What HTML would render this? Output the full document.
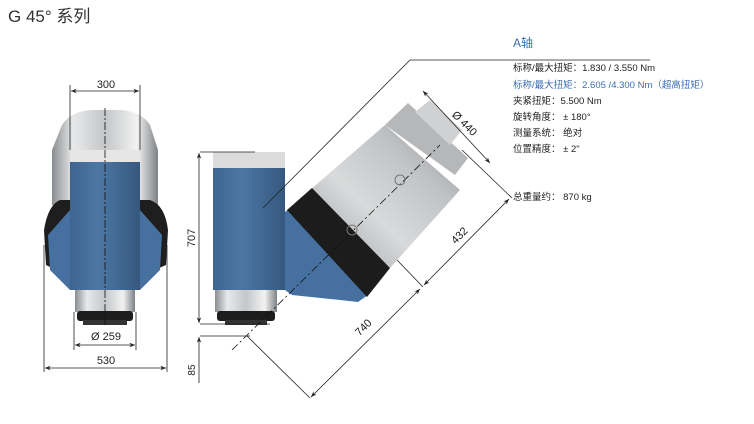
<!DOCTYPE html>
<html><head><meta charset="utf-8"><style>
html,body{margin:0;padding:0;background:#fff}
svg{display:block}
text{font-family:"Liberation Sans","Noto Sans CJK SC",sans-serif}
</style></head><body>
<svg width="754" height="424" viewBox="0 0 754 424" xmlns="http://www.w3.org/2000/svg">
<defs>
<linearGradient id="sil" x1="0" x2="1" y1="0" y2="0">
<stop offset="0" stop-color="#8a8d90"/><stop offset=".2" stop-color="#e8e9ea"/><stop offset=".5" stop-color="#c4c6c8"/><stop offset=".8" stop-color="#f2f2f2"/><stop offset="1" stop-color="#7e8184"/></linearGradient>
<linearGradient id="blu" x1="0" x2="1" y1="0" y2="0">
<stop offset="0" stop-color="#3e6590"/><stop offset=".4" stop-color="#4c77a5"/><stop offset="1" stop-color="#36587e"/></linearGradient>
<linearGradient id="sil2" x1="0" x2="1" y1="1" y2="0">
<stop offset="0" stop-color="#9a9c9e"/><stop offset=".4" stop-color="#d9dadb"/><stop offset=".7" stop-color="#c0c2c4"/><stop offset="1" stop-color="#8e9093"/></linearGradient>
<marker id="a" viewBox="0 0 10 10" refX="10" refY="5" markerWidth="7" markerHeight="7" orient="auto-start-reverse"><path d="M0,1 L10,5 L0,9 L3,5z" fill="#222"/></marker>
</defs>
<text x="8" y="22" font-size="17" fill="#333">G 45°  系列</text>

<!-- FRONT VIEW -->
<path d="M62,125 Q70,112 90,110 L122,110 Q142,112 150,125 L158,150 L158,205 L52,205 L52,150z" fill="url(#sil)"/>
<path d="M44,230 Q48,205 60,200 L150,200 Q165,205 168,230 L166,265 L150,272 L60,272 L46,265z" fill="#1e1e1e"/>
<path d="M48,235 L70,210 L140,210 L162,235 L160,270 L140,290 L70,290 L50,270z" fill="#4570a0"/>
<rect x="70" y="150" width="70" height="12" fill="#e6e6e6"/>
<rect x="70" y="162" width="70" height="128" fill="url(#blu)"/>
<rect x="75" y="290" width="60" height="22" fill="url(#sil)"/>
<rect x="77" y="311" width="56" height="10" rx="3" fill="#1d1d1d"/>
<rect x="83" y="320" width="44" height="5" fill="#333"/>
<line x1="105" y1="108" x2="105" y2="325" stroke="#111" stroke-width=".8" stroke-dasharray="8,2,2,2"/>
<g stroke="#222" stroke-width=".8" fill="none">
<line x1="70" y1="85" x2="70" y2="150"/><line x1="140" y1="85" x2="140" y2="150"/>
<line x1="71" y1="91" x2="139" y2="91" marker-start="url(#a)" marker-end="url(#a)"/>
<line x1="74" y1="312" x2="74" y2="350"/><line x1="136" y1="312" x2="136" y2="350"/>
<line x1="75" y1="345" x2="135" y2="345" marker-start="url(#a)" marker-end="url(#a)"/>
<line x1="44" y1="245" x2="44" y2="372"/><line x1="167" y1="245" x2="167" y2="372"/>
<line x1="45" y1="368" x2="166" y2="368" marker-start="url(#a)" marker-end="url(#a)"/>
</g>
<text x="106" y="88" font-size="11" text-anchor="middle" fill="#222">300</text>
<text x="106" y="340" font-size="11" text-anchor="middle" fill="#222">Ø 259</text>
<text x="106" y="364" font-size="11" text-anchor="middle" fill="#222">530</text>

<!-- SIDE VIEW -->
<polygon points="285,212 290,208 368,295 358,302 340,300 292,295 285,290" fill="#4570a0"/>
<rect x="213" y="152" width="72" height="16" fill="#dcdcdc"/>
<rect x="213" y="168" width="72" height="122" fill="url(#blu)"/>
<rect x="215" y="290" width="62" height="22" fill="url(#sil)"/>
<rect x="217" y="311" width="58" height="10" rx="3" fill="#1d1d1d"/>
<rect x="225" y="320" width="42" height="5" fill="#333"/>

<!-- ROTATED HEAD -->
<polygon points="385,125 408,103 468,158 455,175" fill="#b5b7b9"/>
<polygon points="415,112 430,100 462,130 450,145" fill="#d0d1d2"/>
<polygon points="310,190 385,125 460,190 390,268" fill="url(#sil2)"/>
<polygon points="287,210 312,188 390,268 367,297" fill="#1c1c1c"/>
<line x1="232" y1="350" x2="440" y2="145" stroke="#111" stroke-width=".8" stroke-dasharray="8,3,2,3"/>
<circle cx="400" cy="180" r="5" fill="none" stroke="#777"/>
<circle cx="352" cy="230" r="5" fill="none" stroke="#777"/>

<g stroke="#222" stroke-width=".8" fill="none">
<polyline points="263,208 410,60 650,60"/>
<line x1="423" y1="91" x2="490" y2="163" marker-start="url(#a)" marker-end="url(#a)"/>
<line x1="462" y1="150" x2="512" y2="198"/>
<line x1="397" y1="260" x2="423" y2="287"/>
<line x1="509" y1="199" x2="424" y2="285" marker-start="url(#a)" marker-end="url(#a)"/>
<line x1="420" y1="289" x2="311" y2="397" marker-start="url(#a)" marker-end="url(#a)"/>
<line x1="247" y1="336" x2="310" y2="398"/>
<line x1="200" y1="152" x2="255" y2="152"/>
<line x1="200" y1="324" x2="270" y2="324"/>
<line x1="200" y1="336" x2="250" y2="336"/>
<line x1="199" y1="153" x2="199" y2="323" marker-start="url(#a)" marker-end="url(#a)"/>
<line x1="199" y1="337" x2="199" y2="383" marker-start="url(#a)"/>
</g>
<text transform="translate(195,238) rotate(-90)" font-size="11" text-anchor="middle" fill="#222">707</text>
<text transform="translate(195,370) rotate(-90)" font-size="10" text-anchor="middle" fill="#222">85</text>
<text transform="translate(462,126) rotate(45)" font-size="11" text-anchor="middle" fill="#222">Ø 440</text>
<text transform="translate(462,238) rotate(-45)" font-size="11" text-anchor="middle" fill="#222">432</text>
<text transform="translate(366,330) rotate(-45)" font-size="11" text-anchor="middle" fill="#222">740</text>

<!-- SPECS -->
<text x="513" y="47" font-size="12" fill="#3a6db0">A轴</text>
<g font-size="9.5" fill="#222">
<text x="513" y="71">标称/最大扭矩：1.830 / 3.550 Nm</text>
<text x="513" y="88" fill="#3a6db0">标称/最大扭矩：2.605 /4.300 Nm（超高扭矩）</text>
<text x="513" y="104">夹紧扭矩：5.500 Nm</text>
<text x="513" y="120">旋转角度：  ± 180°</text>
<text x="513" y="136">测量系统：  绝对</text>
<text x="513" y="152">位置精度：  ± 2"</text>
<text x="513" y="200">总重量约：  870 kg</text>
</g>
</svg>
</body></html>
